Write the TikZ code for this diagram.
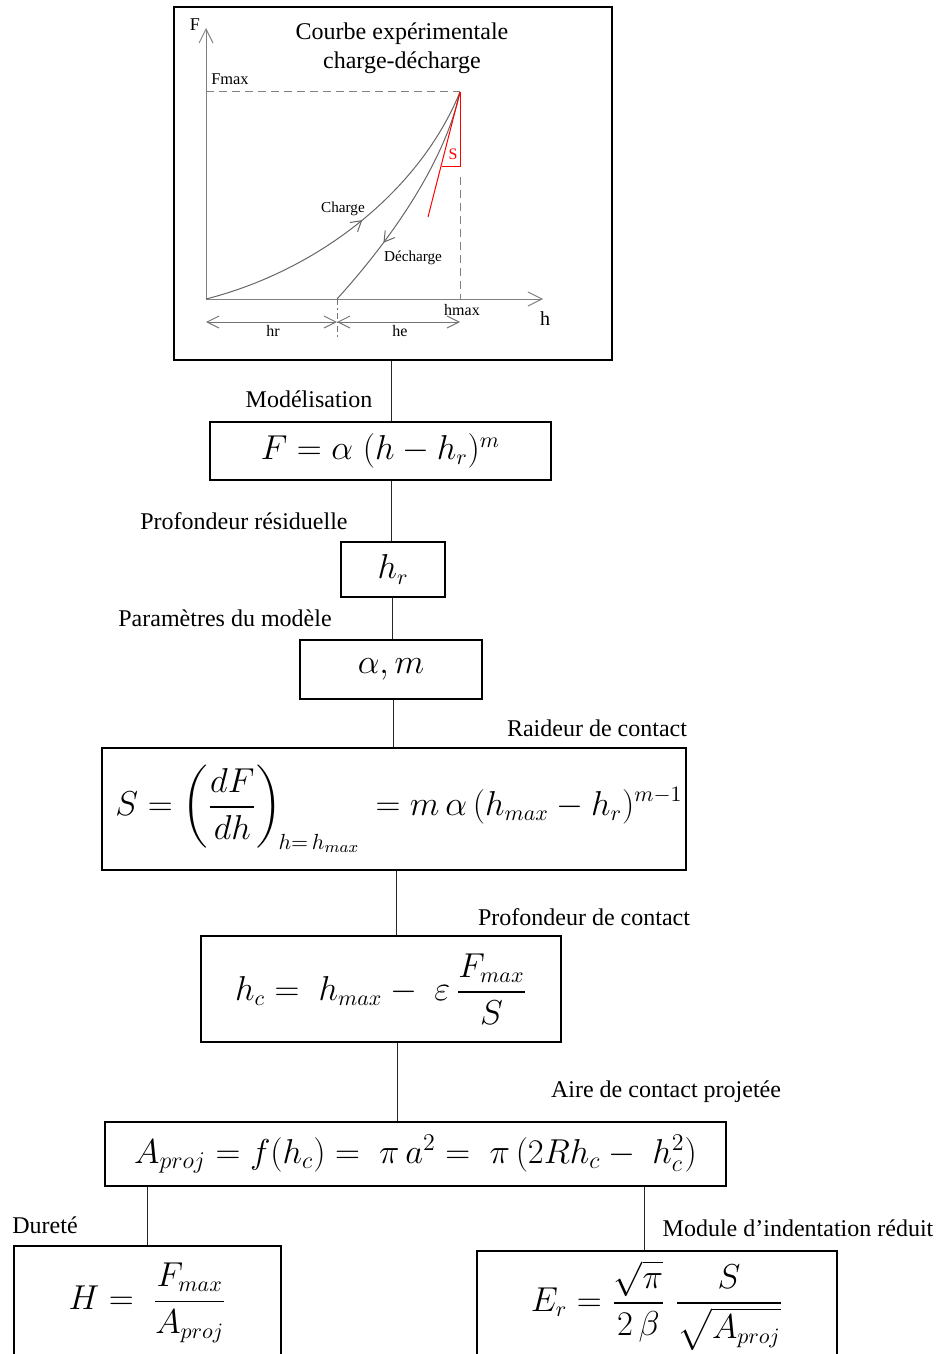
\documentclass[tikz,border=0pt]{standalone}
\usepackage{fontspec}
\setmainfont{Liberation Serif}
\usepackage{amsmath}
\usetikzlibrary{arrows.meta,decorations.markings,calc}
\newcommand\myeqfont{\fontsize{16}{19}\selectfont}
\begin{document}
\begin{tikzpicture}[x=0.5pt,y=-0.5pt,
  box/.style={draw=black, line width=0.9pt, inner sep=0pt, font=\myeqfont},
  lbl/.style={anchor=base, inner sep=0pt, font=\fontsize{12}{14}\selectfont},
  conn/.style={draw=black!85, line width=0.5pt},
  axisline/.style={draw=black!50, line width=0.5pt},
  curveline/.style={draw=black!60, line width=0.5pt},
  dashline/.style={draw=black!50, line width=0.5pt, dash pattern=on 4pt off 2.5pt},
  barb/.style={-{Straight Barb[length=7pt,width=7pt]}},
  dimline/.style={draw=black!55, line width=0.5pt, {Straight Barb[length=6pt,width=6pt]}-{Straight Barb[length=6pt,width=6pt]}},
  small/.style={inner sep=0pt, font=\fontsize{7.6}{9}\selectfont},
  midarrow/.style={postaction={decorate}, decoration={markings, mark=at position #1 with {\arrow{Straight Barb[length=5pt,width=6pt]}}}}
]
\useasboundingbox (0,0) rectangle (938,1354);
\clip (0,0) rectangle (938,1354);

% ---------- chart box ----------
\node[draw=black, line width=0.9pt, minimum width=219pt, minimum height=176.5pt, inner sep=0pt] (chart) at (393,183.5) {};
\coordinate (O) at (206,299);
\coordinate (P) at (460,92);
\coordinate (R) at (337,299);
\coordinate (Ftip) at (206,28);
\coordinate (Htip) at (543,299);
\coordinate (Fm) at (206,92);
\coordinate (Hd) at (460,177);
\coordinate (Hm) at (460,299);
\coordinate (Tg) at (428,217);
\coordinate (Tc) at (460,166);
\coordinate (Tb) at (442,166);
\coordinate (DL) at (206,322);
\coordinate (DM) at (337,322);
\coordinate (DR) at (460,322);
\coordinate (DB) at (337,337);

\draw[axisline, barb] (O) -- (Ftip);
\draw[axisline, barb] (O) -- (Htip);
\draw[dashline] (Fm) -- (P);
\draw[dashline] (Hd) -- (Hm);
\draw[curveline, midarrow=0.52] (O) .. controls (320,270) and (420,190) .. (P);
\draw[curveline, midarrow=0.7] (P) .. controls (445,160) and (395,235) .. (R);
\draw[red, line width=0.5pt] (P) -- (Tg);
\draw[red, line width=0.5pt] (P) -- (Tc) -- (Tb);
\draw[dimline] (DL) -- (DM);
\draw[dimline] (DM) -- (DR);
\draw[draw=black!55, line width=0.5pt, dash pattern=on 3pt off 1.5pt on 0.8pt off 1.5pt] (R) -- (DB);

\node[inner sep=0pt, align=center, font=\fontsize{12}{14.5}\selectfont] (title) at (402,48) {Courbe expérimentale\\charge-décharge};
\node[inner sep=0pt, font=\fontsize{9}{10}\selectfont] (Flbl) at (195,25) {F};
\node[small, font=\fontsize{8.2}{9}\selectfont] (Fmaxlbl) at (230,79) {Fmax};
\node[small, text=red, font=\fontsize{8}{9}\selectfont] (Slbl) at (453,154) {S};
\node[small] (chargelbl) at (343,209) {Charge};
\node[small] (dechargelbl) at (413,258) {Décharge};
\node[small, font=\fontsize{8}{9}\selectfont] (hmaxlbl) at (462,310) {hmax};
\node[inner sep=0pt, font=\fontsize{10}{11}\selectfont] (hlbl) at (545,319) {h};
\node[small, font=\fontsize{8}{9}\selectfont] (hrlbl) at (273,331) {hr};
\node[small, font=\fontsize{8}{9}\selectfont] (helbl) at (400,331) {he};

% ---------- boxes ----------
\node[box, minimum width=170.5pt, minimum height=29pt] (b2) at (380.5,451) {$F = \alpha\;(h - h_r)^m$};
\node[box, minimum width=52pt, minimum height=27.5pt] (b3) at (393,569.5) {$h_r$};
\node[box, minimum width=91pt, minimum height=29.5pt] (b4) at (391,669.5) {$\alpha, m$};
\node[box, minimum width=292pt, minimum height=61pt] (b5) at (394,809) {\hspace*{5pt}$\displaystyle S = \biggl(\frac{dF}{dh}\biggr)_{\!h=\,h_{max}}\, = m\,\alpha\,(h_{max}-h_r)^{m-1}$};
\node[box, minimum width=180pt, minimum height=53pt] (b6) at (381,989) {$\displaystyle h_c =\; h_{max} -\; \varepsilon\,\frac{F_{max}}{S}$};
\node[box, minimum width=310.5pt, minimum height=32pt, font=\fontsize{16.8}{19}\selectfont] (b7) at (415.5,1154) {$A_{proj} = f(h_c) =\; \pi\,a^2 =\; \pi\,(2Rh_c -\; h_c^2)$};
\node[box, minimum width=133.5pt, minimum height=57pt] (b8) at (147.5,1303) {$\displaystyle H =\; \frac{F_{max}}{A_{proj}}$};
\node[box, minimum width=180pt, minimum height=54.5pt] (b9) at (657,1305.5) {$\displaystyle E_r = \frac{\sqrt{\pi}}{2\,\beta}\;\frac{S}{\sqrt{A_{proj}}}$};

% ---------- labels ----------
\node[lbl] (l2) at (309,407) {Modélisation};
\node[lbl] (l3) at (244,529) {Profondeur résiduelle};
\node[lbl] (l4) at (225,626) {Paramètres du modèle};
\node[lbl] (l5) at (597,736) {Raideur de contact};
\node[lbl] (l6) at (584,925) {Profondeur de contact};
\node[lbl] (l7) at (666,1097) {Aire de contact projetée};
\node[lbl] (l8) at (45,1233) {Dureté};
\node[lbl] (l9) at (798,1236) {Module d’indentation réduit};

% ---------- connectors ----------
\coordinate (x1) at (391,0);
\coordinate (x2) at (392,0);
\coordinate (x3) at (393,0);
\coordinate (x4) at (396,0);
\coordinate (x5) at (397,0);
\coordinate (x6) at (644,0);
\draw[conn] (chart.south -| x1) -- (b2.north -| x1);
\draw[conn] (b2.south -| x1) -- (b3.north -| x1);
\draw[conn] (b3.south -| x2) -- (b4.north -| x2);
\draw[conn] (b4.south -| x3) -- (b5.north -| x3);
\draw[conn] (b5.south -| x4) -- (b6.north -| x4);
\draw[conn] (b6.south -| x5) -- (b7.north -| x5);
\draw[conn] (b7.south -| b8.north) -- (b8.north);
\draw[conn] (b7.south -| x6) -- (b9.north -| x6);
\end{tikzpicture}
\end{document}
